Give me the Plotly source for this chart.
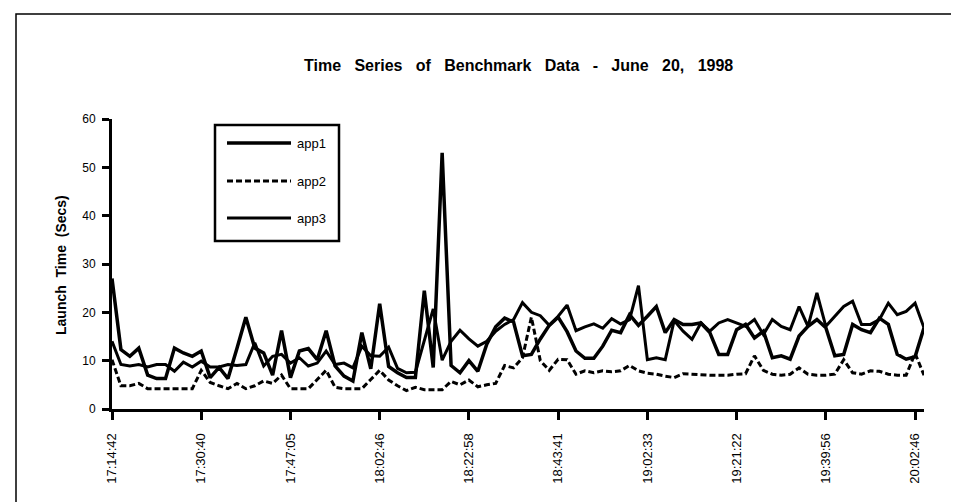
import plotly.graph_objects as go

# ---- data ----
tick_labels = ["17:14:42", "17:30:40", "17:47:05", "18:02:46", "18:22:58",
               "18:43:41", "19:02:33", "19:21:22", "19:39:56", "20:02:46"]
tick_index = [0, 10, 20, 30, 40, 50, 60, 70, 80, 90]
series_names = ["app1", "app2", "app3"]
y_ticks = [0, 10, 20, 30, 40, 50, 60]

app1 = [27.0, 12.3, 10.9, 12.6, 7.0, 6.3, 6.3, 12.6, 11.6, 10.9,
        12.0, 6.5, 8.6, 6.3, 12.5, 19.0, 12.6, 11.6, 7.0, 16.2,
        6.5, 12.0, 12.5, 10.2, 16.2, 8.9, 6.8, 5.8, 15.8, 8.3,
        21.8, 8.8, 7.5, 6.5, 6.5, 24.5, 8.6, 53.0, 9.0, 7.5,
        10.0, 7.8, 13.4, 17.0, 18.8, 18.0, 11.0, 11.3, 14.5, 17.3,
        19.0, 16.0, 12.0, 10.5, 10.5, 13.0, 16.3, 15.8, 19.5, 17.3,
        19.2, 21.2, 15.8, 18.5, 17.5, 17.5, 17.8, 15.8, 11.3, 11.3,
        16.4, 17.5, 14.7, 16.1, 10.6, 11.0, 10.3, 15.1, 17.1, 18.5,
        16.8, 11.0, 11.3, 17.5, 16.4, 15.8, 18.8, 17.5, 11.3, 10.3,
        10.8, 16.8]

app2 = [10.2, 4.8, 4.8, 5.3, 4.2, 4.2, 4.2, 4.2, 4.2, 4.2,
        8.0, 5.5, 4.8, 4.2, 5.3, 4.2, 4.8, 5.8, 5.3, 7.0,
        4.2, 4.2, 4.2, 6.1, 8.0, 4.5, 4.2, 4.2, 4.2, 6.1,
        8.0, 6.0, 4.8, 3.8, 4.5, 4.0, 4.0, 4.0, 5.7, 5.0,
        6.0, 4.6, 5.0, 5.3, 9.0, 8.5, 10.6, 19.0, 10.0, 8.0,
        10.3, 10.2, 7.2, 7.9, 7.5, 7.9, 7.7, 7.9, 9.0, 7.9,
        7.4, 7.2, 6.8, 6.5, 7.3, 7.2, 7.0, 7.0, 7.0, 7.0,
        7.2, 7.3, 11.0, 8.0, 7.2, 7.0, 7.2, 8.5, 7.2, 7.0,
        7.0, 7.2, 10.2, 7.5, 7.2, 7.9, 7.8, 7.2, 7.0, 7.0,
        11.5, 7.0]

app3 = [14.0, 9.2, 8.9, 9.2, 8.7, 9.2, 9.2, 7.8, 9.7, 8.7,
        9.9, 8.7, 8.7, 9.2, 9.0, 9.2, 13.7, 8.9, 10.9, 11.3,
        9.5, 10.6, 8.9, 9.5, 12.0, 9.2, 9.5, 8.5, 13.0, 11.0,
        10.9, 12.8, 8.4, 7.5, 7.6, 13.9, 20.7, 10.1, 14.0, 16.3,
        14.5, 13.0, 14.0, 16.1, 17.5, 18.5, 22.0, 20.0, 19.3, 17.3,
        19.2, 21.5, 16.2, 17.0, 17.6, 16.7, 18.7, 17.6, 18.5, 25.5,
        10.2, 10.6, 10.2, 18.3, 16.1, 14.4, 17.8, 16.1, 17.8, 18.5,
        17.8, 17.1, 18.5, 15.4, 18.5, 17.1, 16.4, 21.2, 17.1, 24.0,
        17.1, 19.2, 21.2, 22.3, 17.5, 17.5, 18.5, 21.9, 19.5, 20.2,
        21.9, 16.8]

# ---- layout geometry ----
W, H = 959, 502
L, R, T, B = 104, 43, 111, 101
PW, PH = W - L - R, H - T - B


def px(xp):
    return (xp - L) / PW


def py(yp):
    return (H - B - yp) / PH


FONT = "Liberation Sans, Arial, Helvetica, sans-serif"
x = list(range(len(app1)))

styles = [dict(color="black", width=3.5),
          dict(color="black", width=3, dash="6px,3px"),
          dict(color="black", width=3)]
data = [app1, app2, app3]

fig = go.Figure()
for name, ys, st in zip(series_names, data, styles):
    fig.add_trace(go.Scatter(x=x, y=ys, mode="lines", name=name,
                             line=st, showlegend=False))

fig.update_layout(
    width=W, height=H, autosize=False,
    margin=dict(l=L, r=R, t=T, b=B, pad=0),
    paper_bgcolor="white", plot_bgcolor="white",
    font=dict(family=FONT, color="black", size=12),
    xaxis=dict(range=[0, len(app1) - 1], tickmode="array",
               tickvals=tick_index, ticktext=tick_labels, tickangle=-90,
               showgrid=False, zeroline=False, showline=True,
               linecolor="black", linewidth=3, ticks="outside",
               ticklen=8, tickwidth=3, tickcolor="black",
               ticklabelstandoff=8,
               tickfont=dict(size=13)),
    yaxis=dict(range=[0, 60], tickmode="array", tickvals=y_ticks,
               showgrid=False, zeroline=False, showline=True,
               linecolor="black", linewidth=3, ticks="outside",
               ticklen=7, tickwidth=3, tickcolor="black",
               ticklabelstandoff=4,
               tickfont=dict(size=12)),
)

gap3 = "\u00a0\u00a0 "
title_words = ["Time", "Series", "of", "Benchmark", "Data", "-", "June", "20,", "1998"]
annotations = [
    dict(text="<b>" + gap3.join(title_words) + "</b>",
         x=0.5, y=py(68), xref="paper", yref="paper", showarrow=False,
         xanchor="center", yanchor="bottom", font=dict(size=16)),
    dict(text="<b>Launch\u00a0 Time\u00a0 (Secs)</b>", x=px(53), y=py(257),
         xref="paper", yref="paper", showarrow=False, textangle=-90,
         xanchor="center", yanchor="middle", font=dict(size=14)),
]

shapes = [
    # outer frame
    dict(type="rect", xref="paper", yref="paper",
         x0=px(8), x1=px(951), y0=py(497), y1=py(6),
         line=dict(color="black", width=1.5)),
    # legend box
    dict(type="rect", xref="paper", yref="paper",
         x0=px(207), x1=px(331), y0=py(233), y1=py(117),
         line=dict(color="black", width=2.5), fillcolor="white", layer="above"),
]

legend_y = [135, 173, 210]
for name, st, ly in zip(series_names, styles, legend_y):
    shapes.append(dict(type="line", xref="paper", yref="paper",
                       x0=px(219), x1=px(283), y0=py(ly), y1=py(ly),
                       line=st, layer="above"))
    annotations.append(dict(text=name, x=px(287), y=py(ly), xref="paper",
                            yref="paper", showarrow=False, xanchor="left",
                            yanchor="middle", font=dict(size=13)))

fig.update_layout(shapes=shapes, annotations=annotations)
fig.write_html("out.html")
